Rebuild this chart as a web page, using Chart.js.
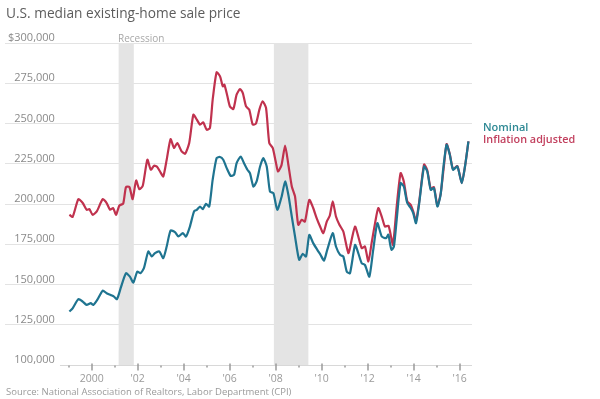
<!DOCTYPE html>
<html>
<head>
<meta charset="utf-8">
<script src="https://cdn.jsdelivr.net/npm/chart.js@4.4.1/dist/chart.umd.min.js"></script>
<style>
  body { margin: 0; background: #fff; }
  #wrap { position: relative; width: 600px; height: 399px; overflow: hidden; font-family: "Open Sans", sans-serif; }
  #chart { position: absolute; left: 0; top: 0; }
  .txt { position: absolute; white-space: nowrap; }
  #title { left: 6px; top: 4px; font-size: 13.7px; line-height: 18px; color: #5c5c5c; }
  #recession { left: 118px; top: 32px; font-size: 10px; line-height: 13px; color: #a8a8a8; }
  #legNominal { left: 483px; top: 120px; font-size: 11px; line-height: 13px; font-weight: 600; color: #2e8994; }
  #legAdjusted { left: 483px; top: 132px; font-size: 10.8px; line-height: 13px; font-weight: 600; color: #c2405e; }
  #source { left: 6px; top: 386px; font-size: 9.5px; line-height: 12px; color: #9a9a9a; }
</style>
</head>
<body>
<div id="wrap">
  <canvas id="chart" width="600" height="399"></canvas>
  <div class="txt" id="title">U.S. median existing-home sale price</div>
  <div class="txt" id="recession">Recession</div>
  <div class="txt" id="legNominal">Nominal</div>
  <div class="txt" id="legAdjusted">Inflation adjusted</div>
  <div class="txt" id="source">Source: National Association of Realtors, Labor Department (CPI)</div>
</div>
<script>
// Nominal median price
const nominalYears = [
  1999.03, 1999.17, 1999.42, 1999.61, 1999.78, 1999.96, 2000.07, 2000.24, 2000.48, 2000.65,
  2000.82, 2000.97, 2001.1, 2001.28, 2001.49, 2001.66, 2001.81, 2001.98, 2002.12, 2002.27,
  2002.46, 2002.61, 2002.75, 2002.94, 2003.11, 2003.26, 2003.43, 2003.62, 2003.77, 2003.96,
  2004.1, 2004.27, 2004.45, 2004.57, 2004.71, 2004.83, 2004.97, 2005.11, 2005.26, 2005.43,
  2005.58, 2005.72, 2005.87, 2006.04, 2006.19, 2006.3, 2006.48, 2006.62, 2006.77, 2006.88,
  2007.03, 2007.17, 2007.32, 2007.46, 2007.61, 2007.75, 2007.9, 2008.07, 2008.26, 2008.41,
  2008.55, 2008.7, 2008.84, 2009.02, 2009.17, 2009.32, 2009.46, 2009.63, 2009.81, 2009.95,
  2010.1, 2010.24, 2010.48, 2010.62, 2010.8, 2010.94, 2011.09, 2011.23, 2011.45, 2011.59,
  2011.74, 2011.88, 2012.07, 2012.24, 2012.42, 2012.61, 2012.8, 2012.9, 2012.98, 2013.04,
  2013.14, 2013.26, 2013.43, 2013.57, 2013.72, 2013.87, 2013.98, 2014.1, 2014.24, 2014.45,
  2014.59, 2014.74, 2014.88, 2015.03, 2015.17, 2015.28, 2015.43, 2015.57, 2015.71, 2015.9,
  2016.09, 2016.23, 2016.38
];
const nominalPrices = [
  133200, 135200, 140900, 139400, 137300, 138400, 137300, 140400, 146200, 144600,
  143500, 142500, 140900, 148700, 157000, 154900, 151200, 158000, 157000, 160100,
  170500, 167400, 169500, 170500, 166400, 173600, 183500, 182600, 179800, 181900,
  179800, 186000, 195400, 196400, 198400, 196800, 200100, 198400, 215100, 228500,
  229200, 227500, 222300, 217500, 218200, 225400, 229500, 225400, 221300, 219200,
  210900, 214000, 223300, 228500, 223300, 207800, 206700, 196400, 204700, 214000,
  205700, 192200, 179800, 165300, 169000, 167400, 180800, 175700, 171500, 168400,
  164900, 171500, 181900, 173600, 168400, 167400, 158000, 157000, 174600, 169500,
  163200, 162200, 154900, 171500, 188100, 179800, 178800, 181000, 174600, 171500,
  173600, 190200, 213000, 210900, 200600, 197500, 194300, 188100, 200600, 223300,
  220200, 208800, 209900, 198400, 205700, 221300, 236800, 230600, 221300, 223300,
  213000, 223300, 238900
];

// Inflation adjusted median price
const adjustedYears = [
  1999.03, 1999.17, 1999.42, 1999.61, 1999.78, 1999.9, 2000.04, 2000.22, 2000.48, 2000.65,
  2000.8, 2000.93, 2001.06, 2001.2, 2001.37, 2001.49, 2001.64, 2001.78, 2001.93, 2002.07,
  2002.22, 2002.42, 2002.57, 2002.71, 2002.85, 2002.97, 2003.11, 2003.26, 2003.43, 2003.58,
  2003.72, 2003.91, 2004.06, 2004.24, 2004.42, 2004.57, 2004.71, 2004.85, 2005.0, 2005.14,
  2005.26, 2005.43, 2005.58, 2005.7, 2005.77, 2005.9, 2006.01, 2006.16, 2006.3, 2006.45,
  2006.57, 2006.71, 2006.85, 2007.0, 2007.14, 2007.29, 2007.43, 2007.58, 2007.72, 2007.87,
  2008.0, 2008.1, 2008.25, 2008.41, 2008.55, 2008.7, 2008.84, 2008.98, 2009.13, 2009.27,
  2009.46, 2009.63, 2009.78, 2009.93, 2010.07, 2010.22, 2010.35, 2010.48, 2010.62, 2010.77,
  2010.94, 2011.16, 2011.3, 2011.45, 2011.59, 2011.74, 2011.88, 2012.03, 2012.17, 2012.32,
  2012.46, 2012.61, 2012.75, 2012.9, 2013.0, 2013.1, 2013.26, 2013.43, 2013.57, 2013.72,
  2013.87, 2013.98, 2014.1, 2014.24, 2014.45, 2014.59, 2014.74, 2014.88, 2015.03, 2015.17,
  2015.3, 2015.43, 2015.57, 2015.71, 2015.9, 2016.09, 2016.23, 2016.38
];
const adjustedPrices = [
  193300, 192000, 203000, 200600, 196400, 196800, 193300, 195400, 203000, 200600,
  196400, 197400, 193300, 199000, 200300, 210500, 210500, 203000, 214600, 209200,
  211300, 227500, 221300, 223800, 223000, 220200, 217100, 227500, 240300, 234800,
  237900, 232700, 231200, 237900, 255500, 252400, 249300, 250700, 246100, 247200,
  264800, 281800, 279300, 273100, 274100, 266900, 260600, 259000, 267900, 271400,
  268900, 260600, 258600, 249300, 249900, 258600, 263800, 259600, 237900, 234800,
  226400, 220200, 224000, 236200, 224400, 210900, 204700, 187100, 190200, 189100,
  202600, 197500, 191200, 186000, 181900, 189100, 192700, 201600, 192200, 187100,
  182900, 169500, 177700, 186000, 179800, 172600, 173600, 164300, 175700, 188100,
  197500, 192200, 186000, 186500, 180800, 174600, 198400, 219200, 214000, 201600,
  199500, 195400, 189500, 201500, 224500, 221000, 209500, 210500, 199000, 206200,
  221800, 237200, 231000, 221600, 223500, 213200, 223300, 238900
];

// Axes
const tickYears = [1999, 2000, 2001, 2002, 2003, 2004, 2005, 2006, 2007, 2008, 2009, 2010, 2011, 2012, 2013, 2014, 2015, 2016];
const tickYearLabels = ['', '2000', '', "'02", '', "'04", '', "'06", '', "'08", '', "'10", '', "'12", '', "'14", '', "'16"];
const priceTicks = [100000, 125000, 150000, 175000, 200000, 225000, 250000, 275000, 300000];
const priceTickLabels = ['100,000', '125,000', '150,000', '175,000', '200,000', '225,000', '250,000', '275,000', '$300,000'];

// Recessions (shaded)
const recessionStarts = [2001.17, 2007.92];
const recessionEnds = [2001.83, 2009.42];

const recessionBands = {
  id: 'recessionBands',
  beforeDatasetsDraw(chart) {
    const { ctx } = chart;
    const x = chart.scales.x, y = chart.scales.y;
    const top = y.getPixelForValue(300000);
    const bottom = y.getPixelForValue(100000);
    ctx.save();
    ctx.fillStyle = '#e4e4e4';
    recessionStarts.forEach((s, i) => {
      const x0 = x.getPixelForValue(s);
      const x1 = x.getPixelForValue(recessionEnds[i]);
      ctx.fillRect(x0, top, x1 - x0, bottom - top);
    });
    ctx.restore();
  }
};

// Baseline with major/minor tick marks
const baseAxis = {
  id: 'baseAxis',
  afterDatasetsDraw(chart) {
    const { ctx, chartArea } = chart;
    const x = chart.scales.x, y = chart.scales.y;
    const y0 = Math.round(y.getPixelForValue(100000)) + 0.5;
    ctx.save();
    ctx.strokeStyle = '#d8d8d8';
    ctx.lineWidth = 1;
    ctx.beginPath();
    ctx.moveTo(x.getPixelForValue(1998.62), y0);
    ctx.lineTo(chartArea.right, y0);
    ctx.stroke();
    ctx.strokeStyle = '#9a9a9a';
    ctx.lineWidth = 1.5;
    tickYears.forEach(yr => {
      const px = Math.round(x.getPixelForValue(yr));
      const major = yr % 2 === 0;
      ctx.beginPath();
      ctx.moveTo(px, y0 - (major ? 2 : 0));
      ctx.lineTo(px, y0 + (major ? 5 : 2));
      ctx.stroke();
    });
    ctx.restore();
  }
};

new Chart(document.getElementById('chart'), {
  type: 'line',
  data: {
    datasets: [
      {
        label: 'Nominal',
        data: nominalYears.map((yr, i) => ({ x: yr, y: nominalPrices[i] })),
        borderColor: '#1f7490',
        borderWidth: 2.2,
        pointRadius: 0,
        tension: 0.2,
        fill: false
      },
      {
        label: 'Inflation adjusted',
        data: adjustedYears.map((yr, i) => ({ x: yr, y: adjustedPrices[i] })),
        borderColor: '#c0324e',
        borderWidth: 2.2,
        pointRadius: 0,
        tension: 0.2,
        fill: false
      }
    ]
  },
  options: {
    responsive: false,
    animation: false,
    layout: { padding: { left: 5, right: 128, top: 43, bottom: 0 } },
    plugins: {
      legend: { display: false },
      tooltip: { enabled: false }
    },
    scales: {
      x: {
        type: 'linear',
        min: 1996.23,
        max: 2016.535,
        afterBuildTicks: scale => { scale.ticks = tickYears.map(v => ({ value: v })); },
        afterFit: scale => { scale.height = 34; },
        grid: { display: false },
        border: { display: false },
        ticks: {
          autoSkip: false,
          maxRotation: 0,
          padding: 0,
          color: '#9a9a9a',
          font: { family: 'Open Sans', size: 10.5 },
          callback: (v) => tickYearLabels[tickYears.indexOf(v)] || ''
        }
      },
      y: {
        min: 100000,
        max: 300000,
        afterBuildTicks: scale => { scale.ticks = priceTicks.map(v => ({ value: v })); },
        afterFit: scale => { scale.width = 0; },
        grid: {
          drawTicks: false,
          color: ctx => ctx.tick && ctx.tick.value === 100000 ? 'rgba(0,0,0,0)' : '#e3e3e3',
          lineWidth: 1
        },
        border: { display: false },
        ticks: {
          mirror: true,
          crossAlign: 'far',
          labelOffset: -5,
          padding: 3,
          color: '#8a8a8a',
          font: { family: 'Open Sans', size: 11 },
          callback: (v) => priceTickLabels[priceTicks.indexOf(v)]
        }
      }
    }
  },
  plugins: [recessionBands, baseAxis]
});
</script>
</body>
</html>
